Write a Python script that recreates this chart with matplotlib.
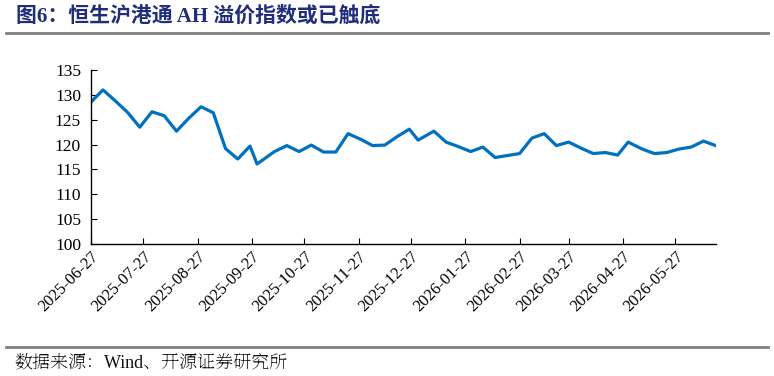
import matplotlib
matplotlib.use("Agg")
import matplotlib.pyplot as plt
import matplotlib.dates as mdates
from datetime import datetime

# 恒生沪港通AH溢价指数（周度）
dates = [
    "2025-06-27", "2025-07-04", "2025-07-11", "2025-07-18", "2025-07-25",
    "2025-08-01", "2025-08-08", "2025-08-15", "2025-08-22", "2025-08-29",
    "2025-09-05", "2025-09-12", "2025-09-19", "2025-09-26", "2025-09-30",
    "2025-10-10", "2025-10-17", "2025-10-24", "2025-10-31", "2025-11-07",
    "2025-11-14", "2025-11-21", "2025-11-28", "2025-12-05", "2025-12-12",
    "2025-12-19", "2025-12-26", "2025-12-31", "2026-01-09", "2026-01-16",
    "2026-01-23", "2026-01-30", "2026-02-06", "2026-02-13", "2026-02-20",
    "2026-02-27", "2026-03-06", "2026-03-13", "2026-03-20", "2026-03-27",
    "2026-04-03", "2026-04-10", "2026-04-17", "2026-04-24", "2026-04-30",
    "2026-05-08", "2026-05-15", "2026-05-22", "2026-05-29", "2026-06-05",
    "2026-06-12", "2026-06-19",
]
ah_index = [
    128.5, 131.0, 128.8, 126.5, 123.5,
    126.6, 125.8, 122.7, 125.3, 127.6,
    126.4, 119.2, 117.1, 119.7, 116.1,
    118.6, 119.8, 118.6, 119.9, 118.5,
    118.5, 122.2, 121.1, 119.8, 119.9,
    121.6, 123.1, 120.9, 122.7, 120.5,
    119.6, 118.6, 119.5, 117.4, 117.8,
    118.2, 121.3, 122.2, 119.8, 120.5,
    119.3, 118.2, 118.4, 117.9, 120.5,
    119.1, 118.2, 118.4, 119.1, 119.5,
    120.7, 119.8,
]
tick_dates = [
    "2025-06-27", "2025-07-27", "2025-08-27", "2025-09-27", "2025-10-27",
    "2025-11-27", "2025-12-27", "2026-01-27", "2026-02-27", "2026-03-27",
    "2026-04-27", "2026-05-27",
]

x = [datetime.strptime(d, "%Y-%m-%d") for d in dates]
xt = [datetime.strptime(d, "%Y-%m-%d") for d in tick_dates]

plt.rcParams["font.family"] = ["Liberation Serif", "Noto Serif SC", "Noto Sans CJK SC"]

fig = plt.figure(figsize=(7.74, 3.76), dpi=100)
ax = fig.add_axes([0.1172, 0.351, 0.8075, 0.4628])

ax.plot(x, ah_index, color="#0070C0", linewidth=2.3)

ax.set_xlim(x[0], x[-1])
ax.set_ylim(100, 135)
ax.set_yticks(range(100, 136, 5))
ax.set_xticks(xt)
ax.xaxis.set_major_formatter(mdates.DateFormatter("%Y-%m-%d"))

for s in ["top", "right"]:
    ax.spines[s].set_visible(False)
for s in ["left", "bottom"]:
    ax.spines[s].set_linewidth(1.0)

ax.tick_params(axis="both", direction="in", length=4, width=0.8)
ax.tick_params(axis="y", pad=7, labelsize=12.5)
ax.tick_params(axis="x", labelsize=12, labelrotation=45)
for lab in ax.get_xticklabels():
    lab.set_ha("right")
    lab.set_rotation_mode("anchor")

# 标题和来源
fig.text(0.021, 0.955, "图6：恒生沪港通 AH 溢价指数或已触底",
         family=["Liberation Serif", "Noto Sans CJK SC"],
         fontsize=15, fontweight="bold", color="#1F2D7A", va="center")
fig.add_artist(plt.Line2D([0.008, 0.992], [0.911, 0.911], color="#7F7F7F",
                          linewidth=2))
fig.add_artist(plt.Line2D([0.008, 0.992], [0.078, 0.078], color="#7F7F7F",
                          linewidth=2))
fig.text(0.019, 0.035, "数据来源：Wind、开源证券研究所",
         fontsize=13, color="#111111", va="center")

fig.savefig("out.png", dpi=100)
